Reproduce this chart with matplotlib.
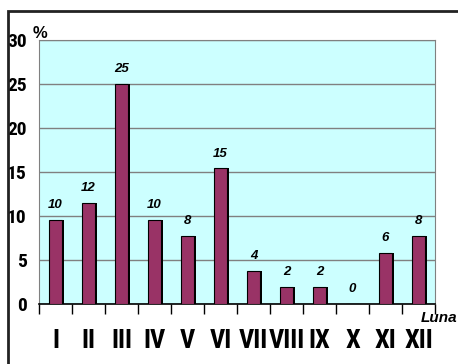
import numpy as np
import matplotlib.pyplot as plt
from matplotlib.patches import Rectangle

months = ['I', 'II', 'III', 'IV', 'V', 'VI', 'VII', 'VIII', 'IX', 'X', 'XI', 'XII']
values = [9.6, 11.5, 25.0, 9.6, 7.7, 15.4, 3.8, 1.9, 1.9, 0.0, 5.8, 7.7]
labels = ['10', '12', '25', '10', '8', '15', '4', '2', '2', '0', '6', '8']
yticks = [0, 5, 10, 15, 20, 25, 30]

narrow = ['Liberation Sans Narrow', 'Roboto Condensed', 'Barlow Condensed',
          'Archivo Narrow', 'Liberation Sans', 'DejaVu Sans']
plt.rcParams['font.family'] = ['Liberation Sans', 'DejaVu Sans']

fig = plt.figure(figsize=(4.58, 3.64), dpi=100)
W, H = 458, 364
ax = fig.add_axes([39 / W, 1 - 304 / H, 396 / W, 264 / H])
ax.set_facecolor('#ccffff')

x = np.arange(len(months))
# shadow then bar
ax.bar(x + 0.07, values, width=0.4, color='black', zorder=2)
ax.bar(x, values, width=0.4, color='#993366', edgecolor='black', linewidth=0.8, zorder=3)

for xi, v, lab in zip(x, values, labels):
    ax.text(xi, v + 1.0, lab, ha='center', va='bottom', fontsize=9.5,
            fontweight='bold', fontstyle='italic')

ax.set_xlim(-0.5, len(months) - 0.5)
ax.set_ylim(0, 30)
ax.set_yticks(yticks)
ax.set_yticklabels([str(t) for t in yticks], fontsize=14, fontweight='bold', family=narrow)
ax.yaxis.grid(True, color='#808080', linewidth=1)
ax.set_axisbelow(True)
ax.tick_params(axis='y', length=0, pad=9)

ax.set_xticks(x)
ax.set_xticklabels(months, fontsize=19, fontweight='bold', family=narrow)
ax.set_xticks(np.arange(len(months) + 1) - 0.5, minor=True)
ax.tick_params(axis='x', which='major', length=0, pad=18)
ax.tick_params(axis='x', which='minor', length=7, width=1, direction='out')

for s in ['top', 'right', 'left']:
    ax.spines[s].set_color('#808080')
ax.spines['bottom'].set_color('black')
ax.spines['bottom'].set_linewidth(1.2)

fig.text(33 / W, 1 - 34 / H, '%', fontsize=12, fontweight='bold', va='center', ha='left')
fig.text(457 / W, 1 - 318 / H, 'Luna', fontsize=11, fontweight='bold', fontstyle='italic',
         va='center', ha='right')

fig.patches.append(Rectangle((8 / W, -0.1), 1.2, 1 - 11 / H + 0.1, transform=fig.transFigure,
                             fill=False, edgecolor='#222222', linewidth=2))

fig.savefig('out.png', dpi=100)
